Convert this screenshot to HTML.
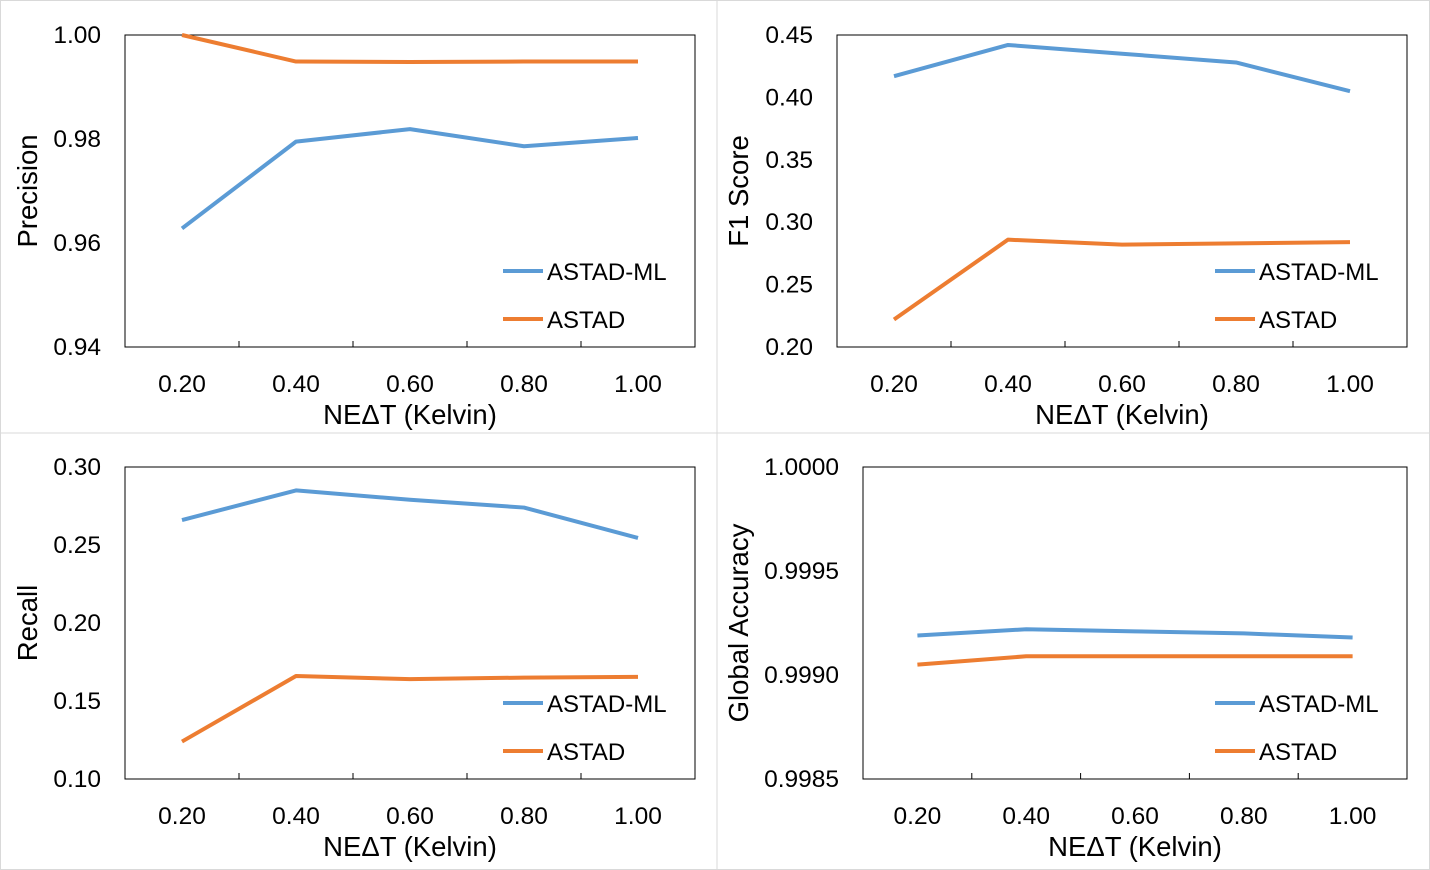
<!DOCTYPE html>
<html><head><meta charset="utf-8"><style>
html,body{margin:0;padding:0;background:#fff}
svg{display:block;font-family:"Liberation Sans",sans-serif}
</style></head><body>
<svg id="c" width="1430" height="870"></svg>
<script>
const categories = ["0.20","0.40","0.60","0.80","1.00"];
const precisionML = [0.9628,0.9795,0.9819,0.9786,0.9802];
const precisionAS = [1.0000,0.9949,0.9948,0.9949,0.9949];
const f1ML = [0.417,0.442,0.435,0.428,0.405];
const f1AS = [0.222,0.286,0.282,0.283,0.284];
const recallML = [0.266,0.285,0.279,0.274,0.2545];
const recallAS = [0.124,0.166,0.164,0.165,0.1655];
const accML = [0.99919,0.99922,0.99921,0.99920,0.99918];
const accAS = [0.99905,0.99909,0.99909,0.99909,0.99909];
const precTicks = [0.94,0.96,0.98,1.00];
const f1Ticks = [0.20,0.25,0.30,0.35,0.40,0.45];
const recTicks = [0.10,0.15,0.20,0.25,0.30];
const accTicks = [0.9985,0.9990,0.9995,1.0000];
const seriesNames = ["ASTAD-ML","ASTAD"];

const NS="http://www.w3.org/2000/svg";
const svg=document.getElementById('c');
function mk(tag,attrs,parent,text){const e=document.createElementNS(NS,tag);for(const k in attrs)e.setAttribute(k,attrs[k]);if(text!==undefined)e.textContent=text;(parent||svg).appendChild(e);return e;}

let fr=mk('rect',{x:0.5,y:0.5,width:1429,height:869,fill:'none',stroke:'#d9d9d9'});


let d1=mk('line',{x1:717,y1:0,x2:717,y2:870,stroke:'#d9d9d9'});


let d2=mk('line',{x1:0,y1:433,x2:1430,y2:433,stroke:'#d9d9d9'});



function panel(name,x0,x1,y0,y1,ticks,dec,title,titleX,ml,as,legX){
  const g=mk('g',{});
  
  
  const lo=ticks[0],hi=ticks[ticks.length-1];
  const ys=v=>y1-(v-lo)/(hi-lo)*(y1-y0);
  const step=(x1-x0)/categories.length;
  const xs=i=>x0+step*(i+0.5);
  const r=mk('rect',{x:x0,y:y0,width:x1-x0,height:y1-y0,fill:'none',stroke:'#000','stroke-width':1},g);
  
  
  ticks.forEach(t=>{
    const tl=mk('text',{x:x0-24,y:ys(t)+8,'text-anchor':'end','font-size':24.5,fill:'#000'},g,t.toFixed(dec));
    
    
  });
  for(let i=1;i<categories.length;i++){
    const tk=mk('line',{x1:x0+step*i,y1:y1,x2:x0+step*i,y2:y1-6,stroke:'#000'},g);
    
    
  }
  categories.forEach((c,i)=>{
    const t=mk('text',{x:xs(i),y:y1+45,'text-anchor':'middle','font-size':24.5},g,c);
    
    
  });
  const xt=mk('text',{x:(x0+x1)/2,y:y1+77,'text-anchor':'middle','font-size':27.5},g,'NEΔT (Kelvin)');
  
  
  const yt=mk('text',{x:0,y:0,'text-anchor':'middle','font-size':27.5,transform:`translate(${titleX},${(y0+y1)/2}) rotate(-90)`},g,title);
  
  
  [[ml,'#5b9bd5'],[as,'#ed7d31']].forEach(([d,col],si)=>{
    const p=mk('polyline',{points:d.map((v,i)=>xs(i)+','+ys(v)).join(' '),fill:'none',stroke:col,'stroke-width':4,'stroke-linejoin':'round'},g);
    
    
    const ly=y0+236+48*si;
    const ll=mk('line',{x1:legX,y1:ly,x2:legX+40,y2:ly,stroke:col,'stroke-width':4},g);
    
    
    const lt=mk('text',{x:legX+44,y:ly+9,'font-size':24},g,seriesNames[si]);
    
    
  });
}
panel('precision',125,695,35,347,precTicks,2,'Precision',37,precisionML,precisionAS,503);
panel('f1',837,1407,35,347,f1Ticks,2,'F1 Score',748,f1ML,f1AS,1215);
panel('recall',125,695,467,779,recTicks,2,'Recall',37,recallML,recallAS,503);
panel('accuracy',863,1407,467,779,accTicks,4,'Global Accuracy',748,accML,accAS,1215);
</script>
</body></html>
